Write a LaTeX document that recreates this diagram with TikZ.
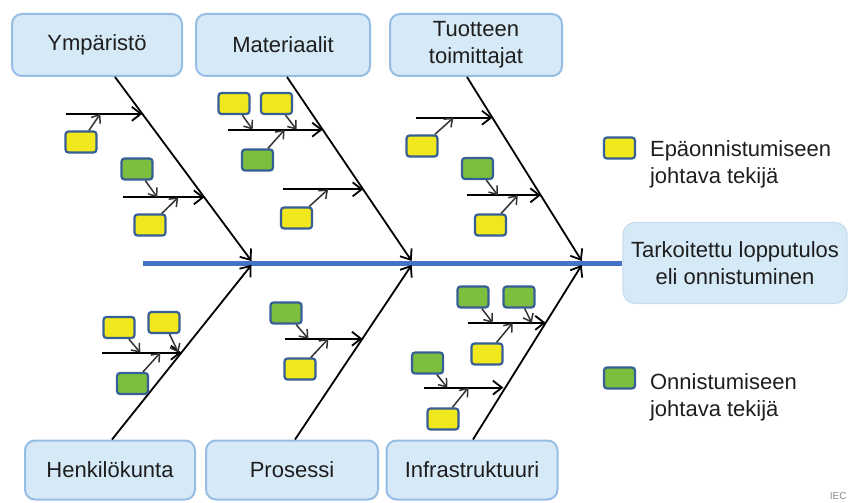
\documentclass[tikz,border=0pt]{standalone}
\usepackage{fontspec}
\setmainfont{Liberation Sans}
\usetikzlibrary{arrows.meta, positioning, calc}

\definecolor{catfill}{RGB}{214,233,247}
\definecolor{catline}{RGB}{150,190,228}
\definecolor{resline}{RGB}{200,222,240}
\definecolor{spineblue}{RGB}{68,114,196}
\definecolor{failyel}{RGB}{240,232,28}
\definecolor{okgreen}{RGB}{124,190,62}
\definecolor{tagline}{RGB}{55,95,150}
\definecolor{inkgray}{RGB}{30,30,30}

\begin{document}
\begin{tikzpicture}[
        x=0.5pt, y=-0.5pt,
        font=\fontsize{11}{13.5}\selectfont,
        cat/.style={rectangle, draw=catline, fill=catfill, line width=1pt, rounded corners=5pt, minimum width=85pt, minimum height=31pt, align=center, text=inkgray},
        result/.style={rectangle, draw=resline, fill=catfill, line width=0.6pt, rounded corners=6pt, minimum width=112pt, minimum height=40.5pt, align=center, text=inkgray},
        tag/.style={rectangle, draw=tagline, line width=1.1pt, rounded corners=1.5pt, minimum width=15.5pt, minimum height=10.5pt, inner sep=0pt},
        bad/.style={tag, fill=failyel},
        good/.style={tag, fill=okgreen},
        spine/.style={draw=spineblue, line width=2.5pt},
        bone/.style={-{Straight Barb[length=4.5pt,width=7pt]}, line width=0.9pt, shorten >=1.2pt},
        rib/.style={-{Straight Barb[length=4.5pt,width=7pt]}, line width=0.9pt},
        twig/.style={-{Straight Barb[length=3.5pt,width=5.5pt]}, line width=0.75pt, draw=black!80},
        legtext/.style={anchor=west, align=left, text=inkgray}
    ]
        \useasboundingbox (0,0) rectangle (849,502);

        % categories
        \node[cat] (ymp) at (97,45) {Ympäristö};
        \node[cat, minimum width=87pt] (mat) at (283,45) {Materiaalit};
        \node[cat, minimum width=86pt] (tuo) at (476,45) {Tuotteen\\toimittajat};
        \node[cat, minimum height=29.5pt] (hen) at (110,470) {Henkilökunta};
        \node[cat, minimum width=86pt, minimum height=29.5pt] (pro) at (292,470) {Prosessi};
        \node[cat, minimum width=85.5pt, minimum height=29.5pt] (inf) at (472,470) {Infrastruktuuri};

        \node[result] (res) at (735,263) {Tarkoitettu lopputulos\\eli onnistuminen};

        % spine
        \coordinate (tail) at (143,263);
        \coordinate (jA) at (253,263);
        \coordinate (jB) at (413,263);
        \coordinate (jC) at (583,263);
        \draw[spine] (tail) -- (res.west);

        % main bones
        \coordinate (bA) at ([xshift=9pt]ymp.south);
        \coordinate (bB) at ([xshift=2pt]mat.south);
        \coordinate (bC) at ([xshift=-4.5pt]tuo.south);
        \coordinate (bD) at ([xshift=1pt]hen.north);
        \coordinate (bE) at ([xshift=1.5pt]pro.north);
        \coordinate (bF) at ([xshift=0.5pt]inf.north);
        \draw[bone] (bA) -- (jA);
        \draw[bone] (bB) -- (jB);
        \draw[bone] (bC) -- (jC);
        \draw[bone] (bD) -- (jA);
        \draw[bone] (bE) -- (jB);
        \draw[bone] (bF) -- (jC);

        % ribs
        \coordinate (rA1) at ($(bA)!.198!(jA)$);
        \coordinate (rA2) at ($(bA)!.647!(jA)$);
        \coordinate (rB1) at ($(bB)!.283!(jB)$);
        \coordinate (rB2) at ($(bB)!.604!(jB)$);
        \coordinate (rC1) at ($(bC)!.219!(jC)$);
        \coordinate (rC2) at ($(bC)!.636!(jC)$);
        \coordinate (rD1) at ($(bD)!.492!(jA)$);
        \coordinate (rE1) at ($(bE)!.571!(jB)$);
        \coordinate (rF1) at ($(bF)!.661!(jC)$);
        \coordinate (rF2) at ($(bF)!.294!(jC)$);
        \draw[rib] ($(rA1)+(-76,0)$) -- (rA1);
        \draw[rib] ($(rA2)+(-81,0)$) -- (rA2);
        \draw[rib] ($(rB1)+(-95,0)$) -- (rB1);
        \draw[rib] ($(rB2)+(-80,0)$) -- (rB2);
        \draw[rib] ($(rC1)+(-76,0)$) -- (rC1);
        \draw[rib] ($(rC2)+(-74,0)$) -- (rC2);
        \draw[rib] ($(rD1)+(-79,0)$) -- (rD1);
        \draw[rib] ($(rE1)+(-77,0)$) -- (rE1);
        \draw[rib] ($(rF1)+(-78,0)$) -- (rF1);
        \draw[rib] ($(rF2)+(-81,0)$) -- ($(rF2)+(-2,0)$);

        % factors, Ympäristö
        \node[bad] (ya1) at (81,142) {};
        \node[good] (ya2) at (137,169) {};
        \node[bad] (ya3) at (150,225) {};
        \draw[twig] (ya1) -- ($(rA1)+(-42,0)$);
        \draw[twig] (ya2) -- ($(rA2)+(-47,0)$);
        \draw[twig] (ya3) -- ($(rA2)+(-26,0)$);

        % factors, Materiaalit
        \node[bad] (ma1) at (234,103.5) {};
        \node[bad] (ma2) at (276.5,103.5) {};
        \node[good] (ma3) at (257.5,160) {};
        \node[bad] (ma4) at (296.5,218) {};
        \draw[twig] (ma1) -- ($(rB1)+(-70,0)$);
        \draw[twig] (ma2) -- ($(rB1)+(-26,0)$);
        \draw[twig] (ma3) -- ($(rB1)+(-38,0)$);
        \draw[twig] (ma4) -- ($(rB2)+(-35,0)$);

        % factors, Tuotteen toimittajat
        \node[bad] (tu1) at (422,146) {};
        \node[good] (tu2) at (477.5,168.5) {};
        \node[bad] (tu3) at (490.5,225) {};
        \draw[twig] (tu1) -- ($(rC1)+(-39,0)$);
        \draw[twig] (tu2) -- ($(rC2)+(-43,0)$);
        \draw[twig] (tu3) -- ($(rC2)+(-23,0)$);

        % factors, Henkilökunta
        \node[bad] (he1) at (119,327.5) {};
        \node[bad] (he2) at (164,322.5) {};
        \node[good] (he3) at (132.5,383.5) {};
        \draw[twig] (he1) -- ($(rD1)+(-41,0)$);
        \draw[twig] (he2) -- ($(rD1)+(-3,0)$);
        \draw[twig] (he3) -- ($(rD1)+(-21,0)$);

        % factors, Prosessi
        \node[good] (pr1) at (286,313) {};
        \node[bad] (pr2) at (300,369) {};
        \draw[twig] (pr1) -- ($(rE1)+(-54,0)$);
        \draw[twig] (pr2) -- ($(rE1)+(-34,0)$);

        % factors, Infrastruktuuri
        \node[good] (in1) at (473,297) {};
        \node[good] (in2) at (519,297) {};
        \node[bad] (in3) at (487,354) {};
        \node[good] (in4) at (427.5,363) {};
        \node[bad] (in5) at (443,419) {};
        \draw[twig] (in1) -- ($(rF1)+(-53,0)$);
        \draw[twig] (in2) -- ($(rF1)+(-14,0)$);
        \draw[twig] (in3) -- ($(rF1)+(-33,0)$);
        \draw[twig] (in4) -- ($(rF2)+(-58,0)$);
        \draw[twig] (in5) -- ($(rF2)+(-37,0)$);

        % legend
        \node[bad] (legbad) at (619.5,148) {};
        \node[legtext] (legbadtxt) at (643,164) {Epäonnistumiseen\\johtava tekijä};
        \node[good] (leggood) at (619.5,378) {};
        \node[legtext] (leggoodtxt) at (643,397) {Onnistumiseen\\johtava tekijä};

        \node[font=\fontsize{5}{6}\selectfont, text=black!45, anchor=south east, inner sep=1pt] (iec) at (849,502) {IEC};
    \end{tikzpicture}
\end{document}
